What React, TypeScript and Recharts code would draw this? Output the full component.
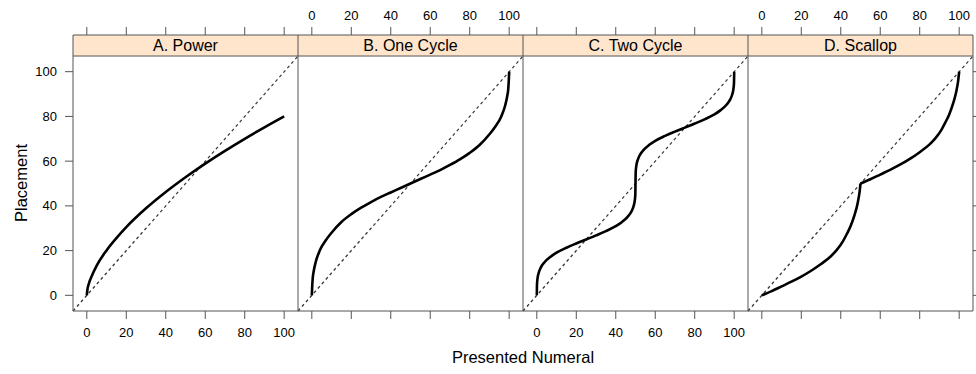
import { LineChart, Line, XAxis, YAxis, ReferenceLine, ReferenceArea } from "recharts";

// panel titles and tick values
const panelTitles = ["A. Power", "B. One Cycle", "C. Two Cycle", "D. Scallop"];
const numeralTicks = [0, 20, 40, 60, 80, 100];
const placementTicks = [0, 20, 40, 60, 80, 100];

// A. Power
const powerX = [0, 0.3, 1, 2, 5, 10, 15, 20, 30, 40, 50, 60, 70, 80, 90, 100];
const powerY = [0, 2.5, 5.1, 7.6, 13.3, 20.1, 25.6, 30.5, 38.9, 46.2, 52.8, 58.9, 64.6, 70.0, 75.1, 80.0];

// B. One Cycle
const oneCycleX = [0, 0.2, 0.5, 1, 2, 4, 7, 10, 15, 20, 25, 30, 35, 40, 45, 50, 55, 60, 65, 70, 75, 80, 85, 90, 93, 96, 98, 99, 99.5, 99.8, 100];
const oneCycleY = [0, 4, 8, 11, 15, 20, 24.5, 28, 32.8, 36.3, 39.2, 41.7, 44, 46, 48, 50, 52, 54, 56, 58.3, 60.8, 63.7, 67.2, 72, 75.5, 80, 85, 89, 92, 96, 100];

// C. Two Cycle
const twoCycleX = [0, 0.1, 0.5, 1, 2, 4, 7, 10, 15, 20, 25, 30, 35, 40, 43, 46, 48, 49, 49.5, 49.9, 50, 50.1, 50.5, 51, 52, 54, 57, 60, 65, 70, 75, 80, 85, 90, 93, 96, 98, 99, 99.5, 99.9, 100];
const twoCycleY = [0, 5.1, 8.4, 10.2, 12.4, 14.9, 17.3, 19.1, 21.3, 23.2, 25, 26.8, 28.7, 30.9, 32.7, 35.1, 37.6, 39.8, 41.6, 44.9, 50, 55.1, 58.4, 60.2, 62.4, 64.9, 67.3, 69.1, 71.3, 73.2, 75, 76.8, 78.7, 80.9, 82.7, 85.1, 87.6, 89.8, 91.6, 94.9, 100];

// D. Scallop (two pieces, cusp at 50)
const scallopLowX = [0, 5, 10, 15, 20, 25, 30, 35, 38, 41, 43, 45, 47, 48.5, 49.5, 50];
const scallopLowY = [0, 1.9, 4.0, 6.1, 8.4, 11.0, 14.0, 17.5, 20.3, 24.0, 27.3, 31.0, 36.0, 41.0, 46.0, 50];
const scallopHighX = [50, 55, 60, 65, 70, 75, 80, 85, 88, 91, 93, 95, 97, 98.5, 99.5, 100];
const scallopHighY = [50, 51.9, 54.0, 56.1, 58.4, 61.0, 64.0, 67.5, 70.3, 74.0, 77.3, 81.0, 86.0, 91.0, 96.0, 100];

const zip = (xs: number[], ys: number[]) => xs.map((x, i) => ({ x, y: ys[i] }));

const panelSeries = [
  [zip(powerX, powerY)],
  [zip(oneCycleX, oneCycleY)],
  [zip(twoCycleX, twoCycleY)],
  [zip(scallopLowX, scallopLowY), zip(scallopHighX, scallopHighY)],
];

const W = 976;
const H = 374;
const PANEL_LEFT = 73;
const PANEL_W = 225;
const AXIS = "#555";
const FONT = '"Liberation Sans", Arial, Helvetica, sans-serif';
const STRIP_TOP = 116.4; // y value at top of the strip

const blank = () => "";
const tickStyle = { fontSize: 13, fill: "#000" };

function Panel({ index }: { index: number }) {
  const left = PANEL_LEFT + index * PANEL_W;
  const right = left + PANEL_W;
  const isFirst = index === 0;
  const isLast = index === 3;
  const labelsOnTop = index % 2 === 1;

  return (
    <div style={{ position: "absolute", left: 0, top: 0 }}>
      <LineChart
        width={W}
        height={H}
        margin={{ top: 5, bottom: 33, left: left - 40, right: isLast ? 0 : W - right }}
      >
        <XAxis
          xAxisId="b"
          orientation="bottom"
          type="number"
          dataKey="x"
          domain={[-7, 107]}
          ticks={numeralTicks}
          interval={0}
          allowDataOverflow
          height={30}
          stroke={AXIS}
          tickSize={8}
          tickMargin={9}
          tick={tickStyle}
          tickFormatter={labelsOnTop ? blank : undefined}
        />
        <XAxis
          xAxisId="t"
          orientation="top"
          type="number"
          dataKey="x"
          domain={[-7, 107]}
          ticks={numeralTicks}
          interval={0}
          allowDataOverflow
          height={30}
          stroke={AXIS}
          tickSize={8}
          tickMargin={7}
          tick={tickStyle}
          tickFormatter={labelsOnTop ? undefined : blank}
        />
        <YAxis
          yAxisId="l"
          type="number"
          domain={[-7, STRIP_TOP]}
          ticks={placementTicks}
          interval={0}
          allowDataOverflow
          width={40}
          stroke={AXIS}
          tickSize={8}
          tickMargin={8}
          tick={isFirst ? tickStyle : false}
          tickLine={isFirst}
        />
        {isLast && (
          <YAxis
            yAxisId="r"
            orientation="right"
            type="number"
            domain={[-7, STRIP_TOP]}
            ticks={placementTicks}
            interval={0}
            allowDataOverflow
            width={3}
            stroke={AXIS}
            tickSize={8}
            tick={tickStyle}
            tickFormatter={blank}
          />
        )}
        <ReferenceArea
          xAxisId="b"
          yAxisId="l"
          x1={-7}
          x2={107}
          y1={107}
          y2={STRIP_TOP}
          fill="#FFE5CC"
          fillOpacity={1}
          stroke="none"
          label={{ value: panelTitles[index], position: "center", fontSize: 16, fill: "#000" }}
        />
        <ReferenceLine xAxisId="b" yAxisId="l" y={107} stroke={AXIS} />
        <ReferenceLine
          xAxisId="b"
          yAxisId="l"
          segment={[{ x: -7, y: -7 }, { x: 107, y: 107 }]}
          stroke="#333"
          strokeWidth={1.2}
          strokeDasharray="3 3"
        />
        {panelSeries[index].map((d, i) => (
          <Line
            key={i}
            data={d}
            dataKey="y"
            xAxisId="b"
            yAxisId="l"
            type="monotone"
            dot={false}
            stroke="#000"
            strokeWidth={2.6}
            isAnimationActive={false}
          />
        ))}
      </LineChart>
    </div>
  );
}

export default function App() {
  return (
    <div
      style={{
        position: "absolute",
        left: 0,
        top: 0,
        width: W,
        height: H,
        background: "#fff",
        fontFamily: FONT,
      }}
    >
      {panelTitles.map((_, i) => (
        <Panel key={i} index={i} />
      ))}
      <svg width={W} height={H} style={{ position: "absolute", left: 0, top: 0, pointerEvents: "none" }}>
        <text x={523} y={363} textAnchor="middle" fontSize={16.5} fill="#000">
          Presented Numeral
        </text>
        <text transform="translate(27,183) rotate(-90)" textAnchor="middle" fontSize={16.5} fill="#000">
          Placement
        </text>
      </svg>
    </div>
  );
}
